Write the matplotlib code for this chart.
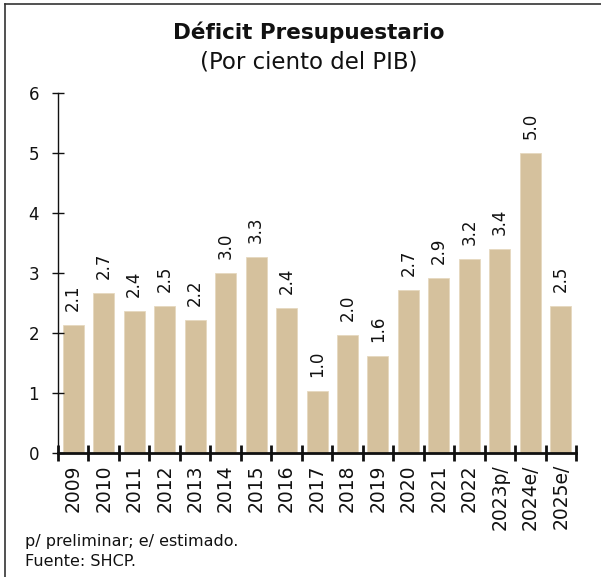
import numpy as np
import matplotlib.pyplot as plt
from matplotlib.lines import Line2D

plt.rcParams['font.family'] = ['DejaVu Sans']

# Data
years = ['2009', '2010', '2011', '2012', '2013', '2014', '2015', '2016', '2017',
         '2018', '2019', '2020', '2021', '2022', '2023p/', '2024e/', '2025e/']
deficit = [2.1, 2.7, 2.4, 2.5, 2.2, 3.0, 3.3, 2.4, 1.0,
           2.0, 1.6, 2.7, 2.9, 3.2, 3.4, 5.0, 2.5]
bar_heights = [2.13, 2.67, 2.36, 2.45, 2.22, 3.0, 3.27, 2.42, 1.03,
               1.96, 1.61, 2.72, 2.91, 3.23, 3.40, 5.0, 2.45]
yticks = [0, 1, 2, 3, 4, 5, 6]

bar_color = '#D5C19D'
ink = '#111111'

fig = plt.figure(figsize=(6.01, 5.77), dpi=100)
ax = fig.add_axes([0.0965, 0.215, 0.862, 0.624])

x = np.arange(len(years))
ax.bar(x, bar_heights, width=0.69, color=bar_color, edgecolor='#E6D9BF', linewidth=0.6)

# value labels above bars
for xi, h, v in zip(x, bar_heights, deficit):
    ax.annotate(f"{v:.1f}", (xi, h), xytext=(0, 10), textcoords='offset points',
                rotation=90, ha='center', va='bottom', fontsize=12, color=ink)

ax.set_xlim(-0.5, len(years) - 0.5)
ax.set_ylim(0, 6)
ax.set_yticks(yticks)
ax.tick_params(axis='y', direction='inout', length=8, width=1, labelsize=12,
               pad=9.5, colors=ink)

# ticks between categories, labels at centres
ax.set_xticks(np.arange(-0.5, len(years), 1.0))
ax.set_xticklabels([])
ax.tick_params(axis='x', which='major', direction='inout', length=11, width=2,
               colors=ink)
ax.set_xticks(x, minor=True)
ax.set_xticklabels(years, minor=True, rotation=90, fontsize=13.5, color=ink)
ax.tick_params(axis='x', which='minor', length=0, pad=8)

for s in ['top', 'right']:
    ax.spines[s].set_visible(False)
ax.spines['left'].set_linewidth(1)
ax.spines['left'].set_color(ink)
ax.spines['bottom'].set_linewidth(2)
ax.spines['bottom'].set_color(ink)

fig.text(0.513, 0.944, "Déficit Presupuestario", ha='center', va='center',
         fontsize=15.5, fontweight='bold', color=ink)
fig.text(0.513, 0.893, "(Por ciento del PIB)", ha='center', va='center',
         fontsize=16.5, color=ink)

fig.text(0.042, 0.062, "p/ preliminar; e/ estimado.", ha='left', va='center',
         fontsize=11.5, color=ink)
fig.text(0.042, 0.027, "Fuente: SHCP.", ha='left', va='center',
         fontsize=11.5, color=ink)

# frame lines on top and left edge
fig.add_artist(Line2D([0.0085, 1.0], [0.9925, 0.9925], color='#333333', linewidth=1.2))
fig.add_artist(Line2D([0.0085, 0.0085], [0.0, 0.9925], color='#333333', linewidth=1.2))

fig.savefig('out.png', dpi=100)
